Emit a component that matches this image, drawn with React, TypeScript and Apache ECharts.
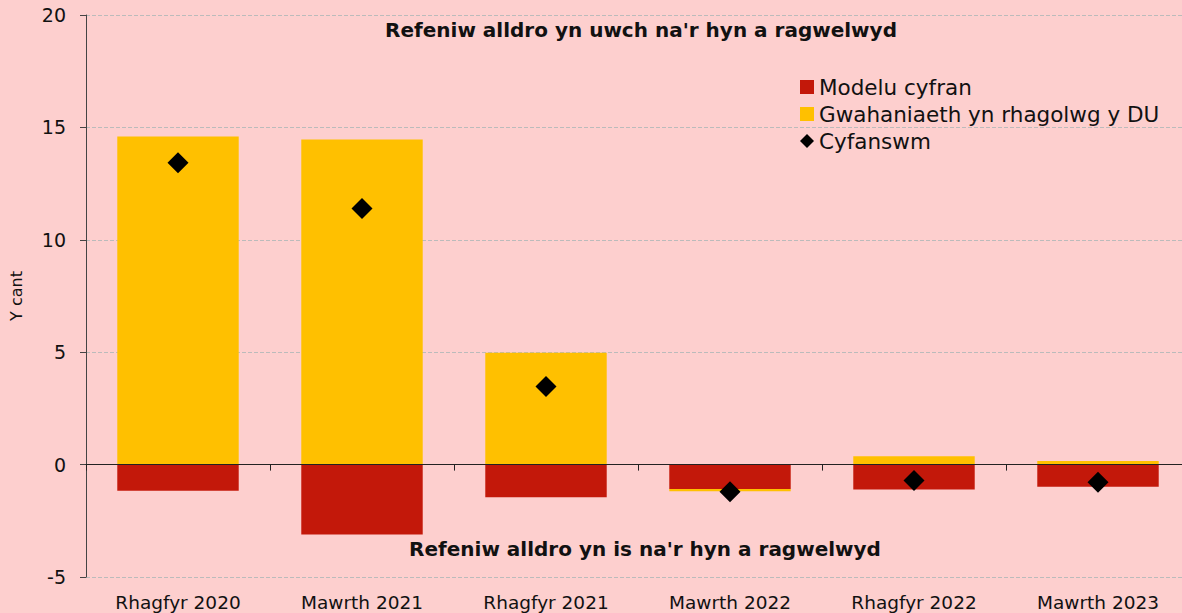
import React, { useEffect, useRef } from "react";
import * as echarts from "echarts";

const categories = ["Rhagfyr 2020", "Mawrth 2021", "Rhagfyr 2021", "Mawrth 2022", "Rhagfyr 2022", "Mawrth 2023"];
const modeluCyfran = [-1.16, -3.11, -1.45, -1.08, -1.11, -0.98];
const gwahaniaeth = [14.59, 14.46, 4.98, -0.11, 0.37, 0.16];
const cyfanswm = [13.43, 11.39, 3.47, -1.21, -0.71, -0.78];
const yTicks = { min: -5, max: 20, interval: 5 };

const FONT = "'DejaVu Sans', sans-serif";

export default function App() {
  const ref = useRef<HTMLDivElement>(null);
  useEffect(() => {
    document.body.style.margin = "0";
    document.body.style.overflow = "hidden";
    const chart = echarts.init(ref.current!, null, { renderer: "svg" });
    chart.setOption({
      animation: false,
      backgroundColor: "#FDCFCE",
      textStyle: { fontFamily: FONT },
      grid: { left: 84, right: 0, top: 15, bottom: 36, containLabel: false },
      legend: {
        orient: "vertical",
        left: 795,
        top: 71,
        itemWidth: 14,
        itemHeight: 14,
        itemGap: 5,
        textStyle: { fontSize: 21.5, color: "#111", fontFamily: FONT },
        data: [
          { name: "Modelu cyfran", icon: "rect" },
          { name: "Gwahaniaeth yn rhagolwg y DU", icon: "rect" },
          { name: "Cyfanswm", icon: "diamond", itemStyle: { opacity: 1 } },
        ],
      },
      xAxis: [
        {
          type: "category",
          data: categories,
          position: "bottom",
          axisLine: { show: false, onZero: false },
          axisTick: { show: false },
          axisLabel: { fontSize: 18.5, color: "#111", margin: 16, fontFamily: FONT },
        },
        {
          type: "category",
          data: categories,
          position: "bottom",
          z: 10,
          axisLine: { show: true, onZero: true, lineStyle: { color: "#222", width: 1 } },
          axisTick: { show: true, length: 6, lineStyle: { color: "#222" } },
          axisLabel: { show: false },
        },
      ],
      yAxis: {
        type: "value",
        min: yTicks.min,
        max: yTicks.max,
        interval: yTicks.interval,
        name: "Y cant",
        nameLocation: "middle",
        nameGap: 62,
        nameTextStyle: { fontSize: 16, color: "#111", fontFamily: FONT },
        axisLine: { show: true, lineStyle: { color: "#444" } },
        axisTick: { show: true, length: 6, lineStyle: { color: "#444" } },
        axisLabel: { fontSize: 19, color: "#111", margin: 20, fontFamily: FONT },
        splitLine: { show: true, lineStyle: { color: "#bbb", type: "dashed", width: 1 } },
      },
      series: [
        {
          name: "Modelu cyfran",
          type: "bar",
          stack: "a",
          barWidth: "66%",
          itemStyle: { color: "#C3180A" },
          data: modeluCyfran,
        },
        {
          name: "Gwahaniaeth yn rhagolwg y DU",
          type: "bar",
          stack: "a",
          barWidth: "66%",
          itemStyle: { color: "#FFC000" },
          data: gwahaniaeth,
        },
        {
          name: "Cyfanswm",
          type: "scatter",
          symbol: "diamond",
          symbolSize: 21,
          z: 5,
          itemStyle: { color: "#000", opacity: 1 },
          data: cyfanswm,
        },
      ],
      graphic: [
        {
          type: "text",
          x: 641,
          y: 30,
          style: {
            text: "Refeniw alldro yn uwch na'r hyn a ragwelwyd",
            fontSize: 20,
            fontWeight: "bold",
            fill: "#111",
            fontFamily: FONT,
            align: "center",
            verticalAlign: "middle",
          },
        },
        {
          type: "text",
          x: 645,
          y: 549,
          style: {
            text: "Refeniw alldro yn is na'r hyn a ragwelwyd",
            fontSize: 20,
            fontWeight: "bold",
            fill: "#111",
            fontFamily: FONT,
            align: "center",
            verticalAlign: "middle",
          },
        },
      ],
    });
    return () => chart.dispose();
  }, []);
  return <div ref={ref} style={{ width: 1190, height: 613 }} />;
}
